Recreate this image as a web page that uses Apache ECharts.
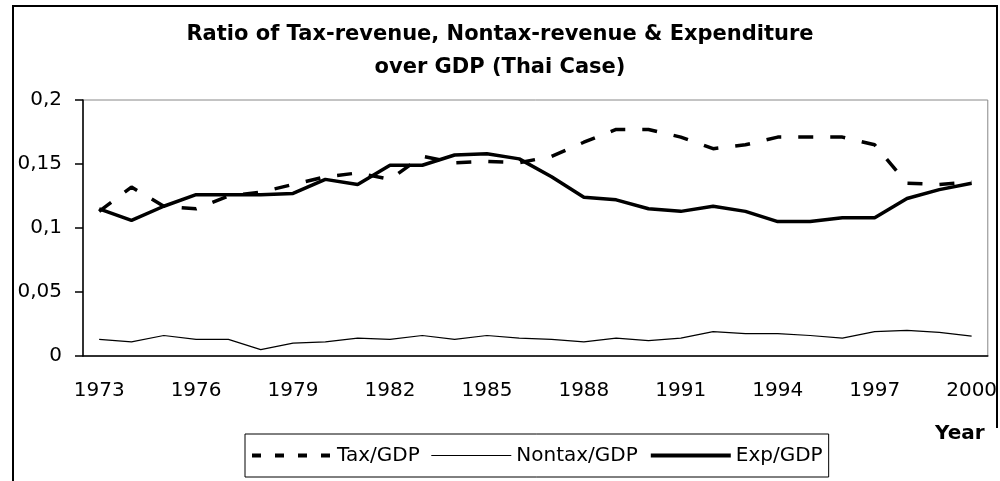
<!DOCTYPE html>
<html>
<head>
<meta charset="utf-8">
<script src="https://cdn.jsdelivr.net/npm/echarts@6/dist/echarts.min.js"></script>
<style>
  html, body { margin: 0; padding: 0; background: #fff; }
  #chart { width: 1000px; height: 481px; }
</style>
</head>
<body>
<div id="chart"></div>
<script>
// years 1973..2000
const years = ['1973', '1974', '1975', '1976', '1977', '1978', '1979', '1980', '1981', '1982',
  '1983', '1984', '1985', '1986', '1987', '1988', '1989', '1990', '1991', '1992',
  '1993', '1994', '1995', '1996', '1997', '1998', '1999', '2000'];

const taxGdp = [0.113, 0.132, 0.117, 0.115, 0.125, 0.128, 0.134, 0.140, 0.143, 0.138,
  0.156, 0.151, 0.152, 0.151, 0.156, 0.167, 0.177, 0.177, 0.171, 0.162,
  0.165, 0.171, 0.171, 0.171, 0.165, 0.135, 0.134, 0.136];

const nontaxGdp = [0.013, 0.011, 0.016, 0.013, 0.013, 0.005, 0.010, 0.011, 0.014, 0.013,
  0.016, 0.013, 0.016, 0.014, 0.013, 0.011, 0.014, 0.012, 0.014, 0.019,
  0.0175, 0.0175, 0.016, 0.014, 0.019, 0.020, 0.0185, 0.0155];

const expGdp = [0.115, 0.106, 0.117, 0.126, 0.126, 0.126, 0.127, 0.138, 0.134, 0.149,
  0.149, 0.157, 0.158, 0.154, 0.140, 0.124, 0.122, 0.115, 0.113, 0.117,
  0.113, 0.105, 0.105, 0.108, 0.108, 0.123, 0.130, 0.135];

// the original text is a stretched Arial, DejaVu is close in width
const font = 'DejaVu Sans, Liberation Sans, sans-serif';
const hidden = 'rgba(0,0,0,0)';

const chart = echarts.init(document.getElementById('chart'));

chart.setOption({
  backgroundColor: '#fff',
  animation: false,
  title: {
    text: 'Ratio of Tax-revenue, Nontax-revenue & Expenditure\nover GDP (Thai Case)',
    left: 'center',
    top: 13,
    textStyle: { fontFamily: font, fontSize: 21, fontWeight: 'bold', color: '#000', lineHeight: 33 }
  },
  legend: {
    left: 245,
    top: 434,
    orient: 'horizontal',
    padding: [10, 6, 10, 5],
    borderColor: '#000',
    borderWidth: 1,
    itemWidth: 80,
    itemHeight: 14,
    itemGap: 11,
    itemStyle: { color: hidden, borderColor: hidden, borderWidth: 0 },
    textStyle: { fontFamily: font, fontSize: 20, color: '#000', lineHeight: 23 },
    data: [
      { name: 'Tax/GDP', lineStyle: { type: [9, 14], width: 4 } },
      { name: 'Nontax/GDP', lineStyle: { width: 1.2 } },
      { name: 'Exp/GDP', lineStyle: { width: 4 } }
    ]
  },
  grid: {
    left: 83, right: 8, top: 100, bottom: 125,
    show: true,
    borderColor: '#888',
    borderWidth: 1
  },
  xAxis: {
    type: 'category',
    data: years,
    boundaryGap: true,
    axisLine: { lineStyle: { color: '#000', width: 1.5 } },
    axisTick: { interval: 0, length: 8, lineStyle: { color: '#000', width: 1.5 } },
    axisLabel: { interval: 2, margin: 25, fontFamily: font, fontSize: 20, color: '#000' },
    splitLine: { show: false }
  },
  yAxis: {
    type: 'value',
    min: 0,
    max: 0.2,
    interval: 0.05,
    axisLine: { show: true, lineStyle: { color: '#000', width: 1.5 } },
    axisTick: { show: true, length: 8, lineStyle: { color: '#000', width: 1.5 } },
    axisLabel: {
      margin: 21, fontFamily: font, fontSize: 20, color: '#000',
      formatter: v => String(v).replace('.', ',')
    },
    splitLine: { show: false }
  },
  series: [
    {
      name: 'Tax/GDP', type: 'line', data: taxGdp,
      symbol: 'none', color: '#000',
      lineStyle: { color: '#000', width: 3.5, type: [15, 17] }
    },
    {
      name: 'Nontax/GDP', type: 'line', data: nontaxGdp,
      symbol: 'none', color: '#000',
      lineStyle: { color: '#000', width: 1.2 }
    },
    {
      name: 'Exp/GDP', type: 'line', data: expGdp,
      symbol: 'none', color: '#000',
      lineStyle: { color: '#000', width: 3.5 }
    }
  ],
  graphic: [
    {
      type: 'text', left: 935, top: 424, z: 10,
      style: { text: 'Year', fontFamily: font, fontSize: 20, fontWeight: 'bold', fill: '#000' }
    },
    // outer chart frame
    {
      type: 'polyline', z: 20, silent: true,
      shape: { points: [[13, 481], [13, 6], [997, 6], [997, 428]] },
      style: { stroke: '#000', lineWidth: 2, fill: null }
    }
  ]
});
</script>
</body>
</html>
